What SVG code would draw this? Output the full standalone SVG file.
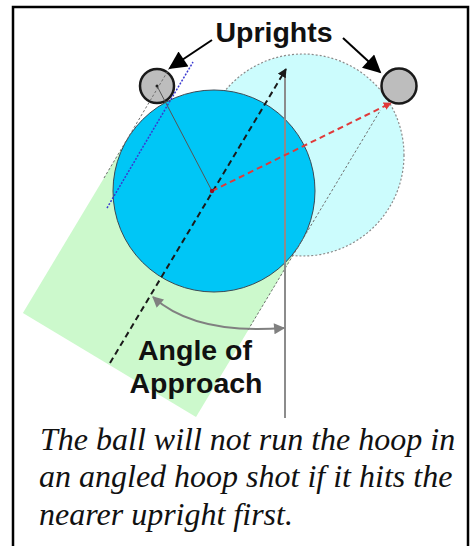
<svg xmlns="http://www.w3.org/2000/svg" width="476" height="546" viewBox="0 0 476 546">
<defs>
<style>
.lbl{font-family:"Liberation Sans",Arial,sans-serif;font-weight:bold;font-size:28.5px;fill:#111}
.cap{font-family:"Liberation Serif","Times New Roman",serif;font-style:italic;font-size:32px;fill:#111}
.upright{fill:#bdbdbd;stroke:#1a1a1a;stroke-width:2.5}
</style>
<marker id="ahBlack" viewBox="0 0 10 10" refX="9" refY="5" markerWidth="9" markerHeight="9" markerUnits="userSpaceOnUse" orient="auto"><path d="M0,0 L10,5 L0,10 z" fill="#1a1a1a"/></marker>
<marker id="ahRed" viewBox="0 0 10 10" refX="9" refY="5" markerWidth="8" markerHeight="8" markerUnits="userSpaceOnUse" orient="auto"><path d="M0,0 L10,5 L0,10 z" fill="#e03a3a"/></marker>
<marker id="ahGray" viewBox="0 0 10 10" refX="9" refY="5" markerWidth="12" markerHeight="11" markerUnits="userSpaceOnUse" orient="auto-start-reverse"><path d="M0,0 L10,5 L0,10 z" fill="#808080"/></marker>
<marker id="ahBig" viewBox="0 0 10 10" refX="9" refY="5" markerWidth="20" markerHeight="18" markerUnits="userSpaceOnUse" orient="auto"><path d="M0,0 L10,5 L0,10 z" fill="#000"/></marker>
</defs>
<rect x="0" y="0" width="476" height="546" fill="#fff"/>
<rect x="13" y="7" width="455" height="560" fill="none" stroke="#000" stroke-width="2.5"/>

<g id="path-band">
<polygon points="127.4,139 300.6,243 196,417 22.9,313" fill="#ccf9cc"/>
</g>
<g id="ghost-ball">
<circle cx="303" cy="155" r="101" fill="#ccfcfd" stroke="#8a8a8a" stroke-width="1.2" stroke-dasharray="2,2"/>
</g>
<g id="ball">
<circle cx="214" cy="191" r="101" fill="#00c6f6" stroke="#3a4a55" stroke-width="1"/>
</g>
<g id="upright-left">
<circle class="upright" cx="157" cy="86" r="17"/>
</g>
<g id="upright-right">
<circle class="upright" cx="399" cy="86" r="17.5"/>
</g>

<g id="connectors">
<line x1="104" y1="178" x2="172" y2="64" stroke="#707070" stroke-width="1" stroke-dasharray="2.5,2"/>
<line x1="248" y1="330" x2="380.5" y2="110" stroke="#707070" stroke-width="1" stroke-dasharray="2.5,2"/>
<line x1="107" y1="208" x2="193" y2="62" stroke="#3a3ad0" stroke-width="1.5" stroke-dasharray="2,1.5"/>
<line x1="157" y1="86" x2="212" y2="191" stroke="#555" stroke-width="1"/>
<line x1="285" y1="76" x2="285" y2="418" stroke="#8c8c8c" stroke-width="2"/>
<line x1="110" y1="363" x2="286" y2="69" stroke="#1a1a1a" stroke-width="2" stroke-dasharray="6,4" marker-end="url(#ahBlack)"/>
<line x1="212" y1="191" x2="391" y2="103" stroke="#e03a3a" stroke-width="2" stroke-dasharray="6,4" marker-end="url(#ahRed)"/>
<path d="M153,297 Q195,335 284,328" fill="none" stroke="#808080" stroke-width="2" marker-start="url(#ahGray)" marker-end="url(#ahGray)"/>
<line x1="212" y1="40" x2="170" y2="68" stroke="#000" stroke-width="2" marker-end="url(#ahBig)"/>
<line x1="343" y1="38" x2="380" y2="72" stroke="#000" stroke-width="2" marker-end="url(#ahBig)"/>
<circle cx="157" cy="86" r="1.5" fill="#222"/>
<circle cx="212" cy="191" r="2.2" fill="#9a1020"/>
</g>

<g id="labels">
<text class="lbl" x="274" y="42" text-anchor="middle">Uprights</text>
<text class="lbl" x="195" y="360" text-anchor="middle">Angle of</text>
<text class="lbl" x="196" y="393" text-anchor="middle">Approach</text>
<g font-family="'Liberation Serif', 'Times New Roman', serif" font-style="italic" font-size="32" fill="#111">
<text x="40" y="450">The ball will not run the hoop in</text>
<text x="39" y="487">an angled hoop shot if it hits the</text>
<text x="39" y="525">nearer upright first.</text>
</g>
</g>
</svg>
